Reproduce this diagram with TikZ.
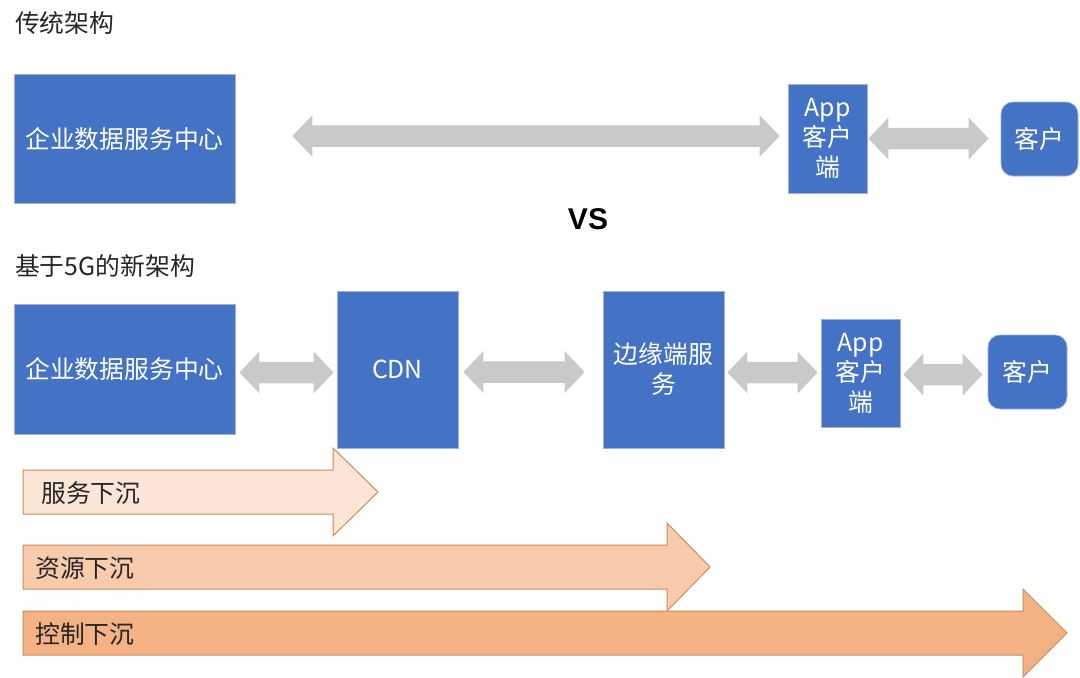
\documentclass[tikz,border=0pt]{standalone}
\usepackage{fontspec}
\setmainfont{Noto Sans CJK SC}
\newfontfamily\vsfont{Liberation Sans}
\usetikzlibrary{calc}
\definecolor{boxblue}{HTML}{4472C4}
\definecolor{boxedge}{HTML}{9DB3DE}
\definecolor{arrgray}{HTML}{C9C9C9}
\definecolor{orA}{HTML}{FBE5D6}
\definecolor{orB}{HTML}{F8CBAD}
\definecolor{orC}{HTML}{F4B183}
\definecolor{orEdge}{HTML}{D08A5C}
\tikzset{
  bluebox/.style={fill=boxblue, draw=boxedge, line width=0.8pt, inner sep=0pt,
    text=white, align=center, font=\fontsize{24.8}{30}\selectfont},
  cusbox/.style={bluebox, rounded corners=12pt},
  titletext/.style={anchor=west, inner sep=0pt, font=\fontsize{24.8}{30}\selectfont, text=black!85},
  orarrow/.style={draw=orEdge, line width=1pt, line join=miter},
  ortext/.style={anchor=west, inner sep=0pt, font=\fontsize{24.8}{30}\selectfont, text=black!85},
  grayarrow/.style={fill=arrgray}
}
% double arrow between two points (same y as first point)
\newcommand\garrow[2]{%
  \fill[grayarrow] let \p1=#1, \p2=#2 in
   (\x1,\y1) -- (\x1+20pt,\y1+21pt) -- (\x1+20pt,\y1+10.75pt) -- (\x2-20pt,\y1+10.75pt)
   -- (\x2-20pt,\y1+21pt) -- (\x2,\y1) -- (\x2-20pt,\y1-21pt) -- (\x2-20pt,\y1-10.75pt)
   -- (\x1+20pt,\y1-10.75pt) -- (\x1+20pt,\y1-21pt) -- cycle;}
\begin{document}
\begin{tikzpicture}[x=1pt,y=-1pt]
\useasboundingbox (0,0) rectangle (1080,678);

% titles
\node[titletext] (title1) at (15,23) {传统架构};
\node[titletext] (title2) at (15,266) {基于5G的新架构};
\node[inner sep=0pt, font=\vsfont\bfseries\fontsize{30}{36}\selectfont] (vs) at (588,219) {VS};

% top row
\node[bluebox, minimum width=221pt, minimum height=129pt] (t1) at (124.5,138.5) {企业数据服务中心};
\node[bluebox, minimum width=79pt, minimum height=109pt] (tapp) at (827.5,138.5) {App\\客户\\端};
\node[cusbox, minimum width=77pt, minimum height=74pt] (tcus) at (1039.5,139) {客户};

\garrow{([xshift=57pt,yshift=2.5pt]t1.east)}{([xshift=-8pt,yshift=2.5pt]tapp.west)}
\garrow{([xshift=1pt]tapp.east)}{([xshift=-12pt]tcus.west)}

% bottom row
\node[bluebox, minimum width=221pt, minimum height=130pt] (b1) at (124.5,369) {企业数据服务中心};
\node[bluebox, minimum width=121pt, minimum height=157pt] (cdn) at (397.5,369.5) {CDN};
\node[bluebox, minimum width=121pt, minimum height=157pt] (edge) at (663.5,369.5) {边缘端服\\务};
\node[bluebox, minimum width=79pt, minimum height=108pt] (bapp) at (860.5,373) {App\\客户\\端};
\node[cusbox, minimum width=79pt, minimum height=74pt] (bcus) at (1027.5,372) {客户};

\garrow{([xshift=4pt,yshift=-3.5pt]b1.east)}{([xshift=-3pt,yshift=-3.5pt]cdn.west)}
\garrow{([xshift=5pt,yshift=-2.5pt]cdn.east)}{([xshift=-18pt,yshift=-2.5pt]edge.west)}
\garrow{([xshift=3pt,yshift=-3pt]edge.east)}{([xshift=-3pt,yshift=-3pt]bapp.west)}
\garrow{([xshift=3pt,yshift=-1.5pt]bapp.east)}{([xshift=-5pt,yshift=-1.5pt]bcus.west)}

% orange arrows
\draw[orarrow, fill=orA] (23,470) -- (333,470) -- (333,448) -- (378,492) -- (333,536) -- (333,514) -- (23,514) -- cycle;
\node[ortext] (s1) at (41,493) {服务下沉};
\draw[orarrow, fill=orB] (23,545) -- (667,545) -- (667,523) -- (710,567) -- (667,611) -- (667,589) -- (23,589) -- cycle;
\node[ortext] (s2) at (35,568) {资源下沉};
\draw[orarrow, fill=orC] (23,611) -- (1023,611) -- (1023,589) -- (1067,633) -- (1023,677) -- (1023,655) -- (23,655) -- cycle;
\node[ortext] (s3) at (35,634) {控制下沉};
\end{tikzpicture}
\end{document}
